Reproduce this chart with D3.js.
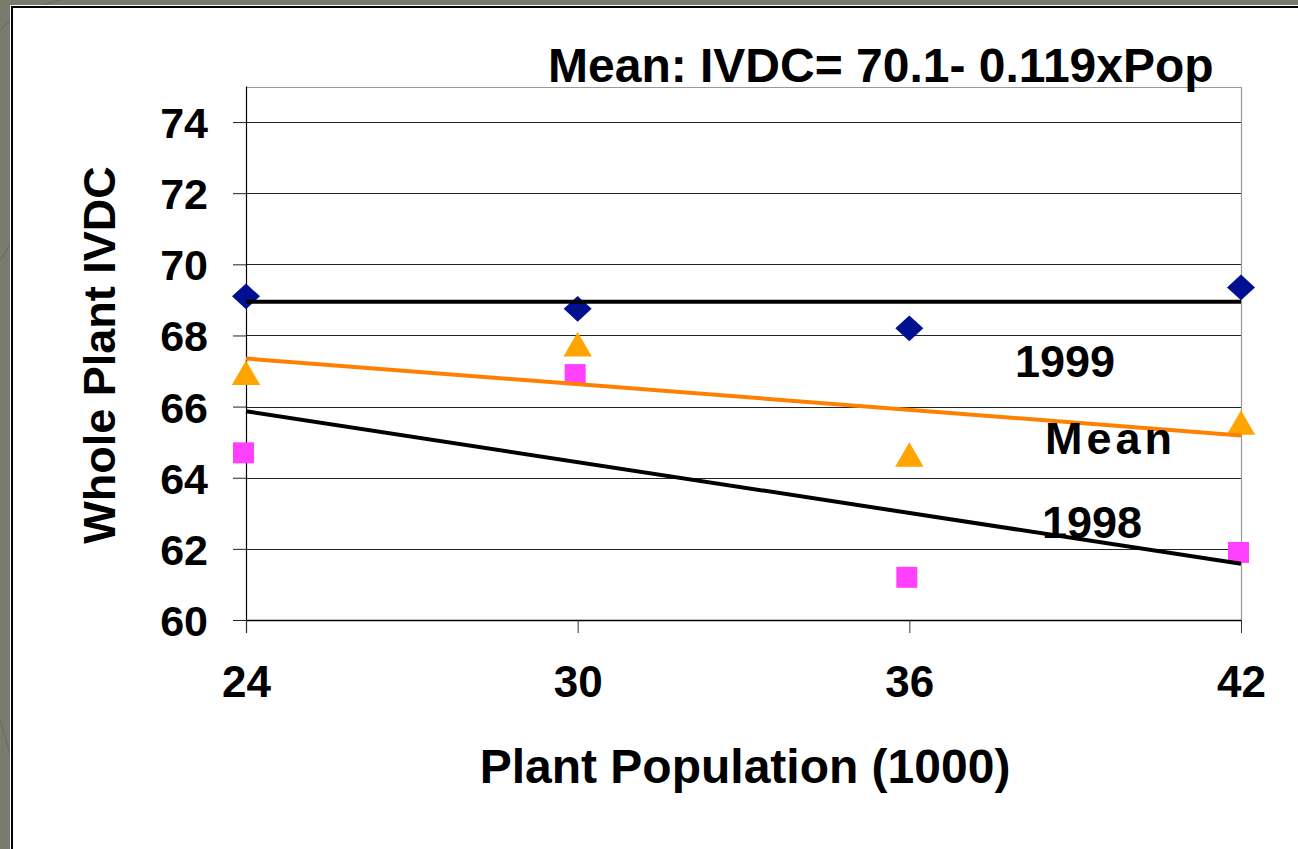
<!DOCTYPE html>
<html>
<head>
<meta charset="utf-8">
<script src="https://cdn.jsdelivr.net/npm/d3@7"></script>
<style>
  html, body { margin: 0; padding: 0; background: #787c6e; overflow: hidden; }
  svg { display: block; }
  text { font-family: "Liberation Sans", Arial, sans-serif; font-weight: bold; fill: #000; }
</style>
</head>
<body>
<script>
// ---- data ----
const populations = [24, 30, 36, 42];
const ivdc1999 = [69.1, 68.75, 68.2, 69.35];
const ivdcMean = [66.95, 67.75, 64.65, 65.55];
const ivdc1998 = [64.7, 66.9, 61.2, 61.9];
const trendX = [24, 42];
const trend1999 = [68.95, 68.95];
const trendMean = [67.35, 65.19];
const trend1998 = [65.87, 61.58];
const yTicks = [60, 62, 64, 66, 68, 70, 72, 74];
const xTicks = [24, 30, 36, 42];
const titleText = "Mean: IVDC= 70.1- 0.119xPop";
const yLabel = "Whole Plant IVDC";
const xLabel = "Plant Population (1000)";
const seriesLabels = [
  { text: "1999", x: 1015, y: 377, ls: 0 },
  { text: "Mean", x: 1045, y: 454, ls: 4 },
  { text: "1998", x: 1042, y: 538, ls: 0 }
];

const W = 1298, H = 849;
const svg = d3.select("body").append("svg").attr("width", W).attr("height", H);

// background panel
svg.append("rect").attr("x", 0).attr("y", 0).attr("width", W).attr("height", H).attr("fill", "#787c6e");
const tex = svg.append("g").attr("stroke", "#6a6e61").attr("fill", "none").attr("stroke-width", 1.2);
tex.append("path").attr("d", "M0,30 Q20,10 60,0");
tex.append("path").attr("d", "M0,260 Q8,250 12,240");
tex.append("path").attr("d", "M0,720 Q6,740 12,760");
svg.append("rect").attr("x", 10).attr("y", 5).attr("width", W).attr("height", H)
  .attr("fill", "#fff");
svg.append("rect").attr("x", 12).attr("y", 7).attr("width", W).attr("height", H)
  .attr("fill", "#fff").attr("stroke", "#000").attr("stroke-width", 2);

const x = d3.scaleLinear().domain([24, 42]).range([246, 1241]);
const y = d3.scaleLinear().domain([60, 75]).range([620, 86.5]);

// gridlines
svg.append("g").selectAll("line").data(yTicks).join("line")
  .attr("x1", x(24)).attr("x2", x(42))
  .attr("y1", d => Math.round(y(d)) + 0.5).attr("y2", d => Math.round(y(d)) + 0.5)
  .attr("stroke", "#222").attr("stroke-width", 1);

// plot border (top & right)
svg.append("path")
  .attr("d", `M${x(24)},${Math.round(y(75)) + 0.5}H${Math.round(x(42)) + 0.5}V${y(60)}`)
  .attr("fill", "none").attr("stroke", "#999").attr("stroke-width", 1.2);

// y axis
const yAxis = d3.axisLeft(y).tickValues(yTicks).tickSizeInner(13).tickSizeOuter(0).tickPadding(25);
const gy = svg.append("g").attr("transform", `translate(${x(24)},0)`).call(yAxis);
gy.select(".domain").attr("stroke", "#000").attr("stroke-width", 1.2)
  .attr("d", `M0.5,${y(75)}V${y(60) + 13}`);
gy.selectAll(".tick line").attr("stroke", "#222");
gy.selectAll(".tick text").attr("font-size", 43).attr("dy", "0.36em")
  .attr("font-family", "Liberation Sans, Arial, sans-serif").attr("font-weight", "bold").attr("fill", "#000");

// x axis
const xAxis = d3.axisBottom(x).tickValues(xTicks).tickSizeInner(13).tickSizeOuter(0).tickPadding(33);
const gx = svg.append("g").attr("transform", `translate(0,${y(60)})`).call(xAxis);
gx.select(".domain").attr("stroke", "#000").attr("stroke-width", 1.5)
  .attr("d", `M${x(24)},0.5H${x(42)}`);
gx.selectAll(".tick line").attr("stroke", "#333");
gx.selectAll(".tick text").attr("font-size", 44)
  .attr("font-family", "Liberation Sans, Arial, sans-serif").attr("font-weight", "bold").attr("fill", "#000");

// markers
const diamond = d3.symbol().type(d3.symbolSquare).size(392);
svg.append("g").selectAll("path").data(populations).join("path")
  .attr("d", diamond)
  .attr("transform", (d, i) => `translate(${x(d)},${y(ivdc1999[i])}) scale(1,0.92) rotate(45)`)
  .attr("fill", "#001090");

const tri = d3.symbol().type(d3.symbolTriangle).size(350);
svg.append("g").selectAll("path").data(populations).join("path")
  .attr("d", tri)
  .attr("transform", (d, i) => `translate(${x(d)},${y(ivdcMean[i]) + 4})`)
  .attr("fill", "#ffa500");

const sq = d3.symbol().type(d3.symbolSquare).size(441);
svg.append("g").selectAll("path").data(populations).join("path")
  .attr("d", sq)
  .attr("transform", (d, i) => `translate(${x(d) - 2.5},${y(ivdc1998[i])})`)
  .attr("fill", "#ff40ff");

// trend lines
const line = d3.line().x(d => x(d[0])).y(d => y(d[1]));
const trends = [
  { vals: trend1999, color: "#000", w: 4 },
  { vals: trendMean, color: "#ff8000", w: 4 },
  { vals: trend1998, color: "#000", w: 4 }
];
svg.append("g").selectAll("path").data(trends).join("path")
  .attr("d", t => line(trendX.map((xx, i) => [xx, t.vals[i]])))
  .attr("fill", "none").attr("stroke", t => t.color).attr("stroke-width", t => t.w);

// series labels
svg.append("g").selectAll("text").data(seriesLabels).join("text")
  .attr("x", d => d.x).attr("y", d => d.y)
  .attr("font-size", 45).attr("letter-spacing", d => d.ls)
  .text(d => d.text);

// title
svg.append("text").attr("x", 548).attr("y", 82).attr("font-size", 48).text(titleText);

// axis titles
svg.append("text").attr("transform", "translate(115,355) rotate(-90)")
  .attr("text-anchor", "middle").attr("font-size", 45).text(yLabel);
svg.append("text").attr("x", 745).attr("y", 783)
  .attr("text-anchor", "middle").attr("font-size", 48).text(xLabel);
</script>
</body>
</html>
